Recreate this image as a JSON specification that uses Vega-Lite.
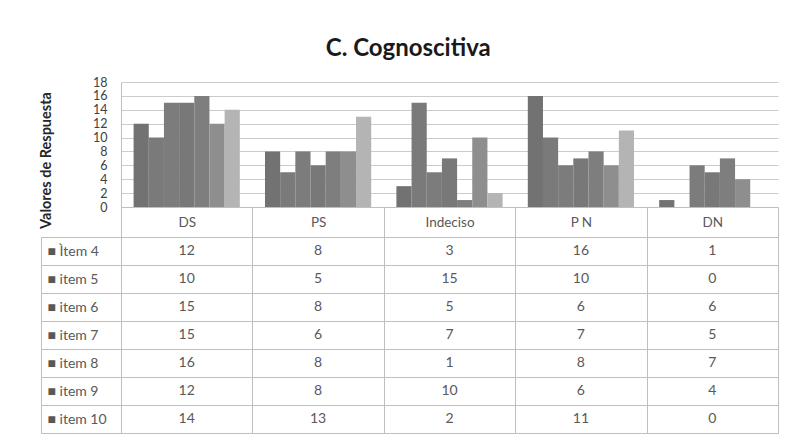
{
  "$schema": "https://vega.github.io/schema/vega-lite/v6.json",
  "background": "white",
  "padding": {"left": 38, "top": 37, "right": 9, "bottom": 2},
  "title": {"text": "C. Cognoscitiva", "fontSize": 24, "fontWeight": "bold", "color": "#1a1a1a", "anchor": "middle", "frame": "bounds", "offset": 15},
  "data": {"values": [
    {"item": "\u00cctem 4", "cat": "DS", "value": 12}, {"item": "\u00cctem 4", "cat": "PS", "value": 8}, {"item": "\u00cctem 4", "cat": "Indeciso", "value": 3}, {"item": "\u00cctem 4", "cat": "P N", "value": 16}, {"item": "\u00cctem 4", "cat": "DN", "value": 1},
    {"item": "item 5", "cat": "DS", "value": 10}, {"item": "item 5", "cat": "PS", "value": 5}, {"item": "item 5", "cat": "Indeciso", "value": 15}, {"item": "item 5", "cat": "P N", "value": 10}, {"item": "item 5", "cat": "DN", "value": 0},
    {"item": "item 6", "cat": "DS", "value": 15}, {"item": "item 6", "cat": "PS", "value": 8}, {"item": "item 6", "cat": "Indeciso", "value": 5}, {"item": "item 6", "cat": "P N", "value": 6}, {"item": "item 6", "cat": "DN", "value": 6},
    {"item": "item 7", "cat": "DS", "value": 15}, {"item": "item 7", "cat": "PS", "value": 6}, {"item": "item 7", "cat": "Indeciso", "value": 7}, {"item": "item 7", "cat": "P N", "value": 7}, {"item": "item 7", "cat": "DN", "value": 5},
    {"item": "item 8", "cat": "DS", "value": 16}, {"item": "item 8", "cat": "PS", "value": 8}, {"item": "item 8", "cat": "Indeciso", "value": 1}, {"item": "item 8", "cat": "P N", "value": 8}, {"item": "item 8", "cat": "DN", "value": 7},
    {"item": "item 9", "cat": "DS", "value": 12}, {"item": "item 9", "cat": "PS", "value": 8}, {"item": "item 9", "cat": "Indeciso", "value": 10}, {"item": "item 9", "cat": "P N", "value": 6}, {"item": "item 9", "cat": "DN", "value": 4},
    {"item": "item 10", "cat": "DS", "value": 14}, {"item": "item 10", "cat": "PS", "value": 13}, {"item": "item 10", "cat": "Indeciso", "value": 2}, {"item": "item 10", "cat": "P N", "value": 11}, {"item": "item 10", "cat": "DN", "value": 0}
  ]},
  "spacing": 30,
  "bounds": "flush",
  "vconcat": [
    {
      "width": 657,
      "height": 125,
      "mark": {"type": "bar"},
      "encoding": {
        "x": {"field": "cat", "type": "nominal", "sort": ["DS", "PS", "Indeciso", "P N", "DN"],
          "scale": {"paddingInner": 0, "paddingOuter": 0},
          "axis": {"title": null, "orient": "bottom", "tickBand": "extent", "tickSize": 30, "tickColor": "#bfbfbf", "domainColor": "#bfbfbf", "labelAngle": 0, "labelBaseline": "middle", "labelPadding": -15, "labelFontSize": 13.5, "labelColor": "#595959", "grid": false}},
        "xOffset": {"field": "item", "type": "nominal", "sort": ["\u00cctem 4", "item 5", "item 6", "item 7", "item 8", "item 9", "item 10"],
          "scale": {"paddingInner": 0, "paddingOuter": 0.83}},
        "y": {"field": "value", "type": "quantitative", "scale": {"domain": [0, 18]},
          "axis": {"values": [0, 2, 4, 6, 8, 10, 12, 14, 16, 18], "labelOverlap": false, "title": "Valores de Respuesta", "ticks": false, "labelPadding": 14, "grid": true, "gridColor": "#cccccc", "gridWidth": 1.2, "domainColor": "#bfbfbf", "titleX": -68, "titleY": 78, "titleFontSize": 14.5, "titleFontWeight": "bold", "titleColor": "#262626", "labelFontSize": 12.5, "labelColor": "#404040"}},
        "color": {"field": "item", "type": "nominal", "sort": ["\u00cctem 4", "item 5", "item 6", "item 7", "item 8", "item 9", "item 10"],
          "scale": {"range": ["#727272", "#7a7a7a", "#7c7c7c", "#787878", "#7e7e7e", "#8e8e8e", "#b4b4b4"]}, "legend": null}
      }
    },
    {
      "width": 657,
      "height": 196,
      "view": {"stroke": "#bfbfbf"},
      "mark": {"type": "text", "fontSize": 14, "color": "#595959"},
      "encoding": {
        "x": {"field": "cat", "type": "nominal", "sort": ["DS", "PS", "Indeciso", "P N", "DN"],
          "scale": {"paddingInner": 0, "paddingOuter": 0},
          "axis": {"title": null, "labels": false, "ticks": false, "domain": false, "grid": true, "tickBand": "extent", "gridColor": "#bfbfbf"}},
        "y": {"field": "item", "type": "nominal", "sort": ["\u00cctem 4", "item 5", "item 6", "item 7", "item 8", "item 9", "item 10"],
          "scale": {"paddingInner": 0, "paddingOuter": 0},
          "axis": {"title": null, "offset": 80, "tickBand": "extent", "tickSize": -80, "tickColor": "#bfbfbf", "domainColor": "#bfbfbf", "grid": true, "gridColor": "#bfbfbf", "labelAlign": "left", "labelPadding": 74, "labelExpr": "datum.label ? '\u25a0 ' + datum.label : ''", "labelFontSize": 14, "labelColor": "#595959"}},
        "text": {"field": "value", "type": "quantitative"}
      }
    }
  ],
  "config": {
    "font": "Lato",
    "view": {"stroke": null}
  }
}
